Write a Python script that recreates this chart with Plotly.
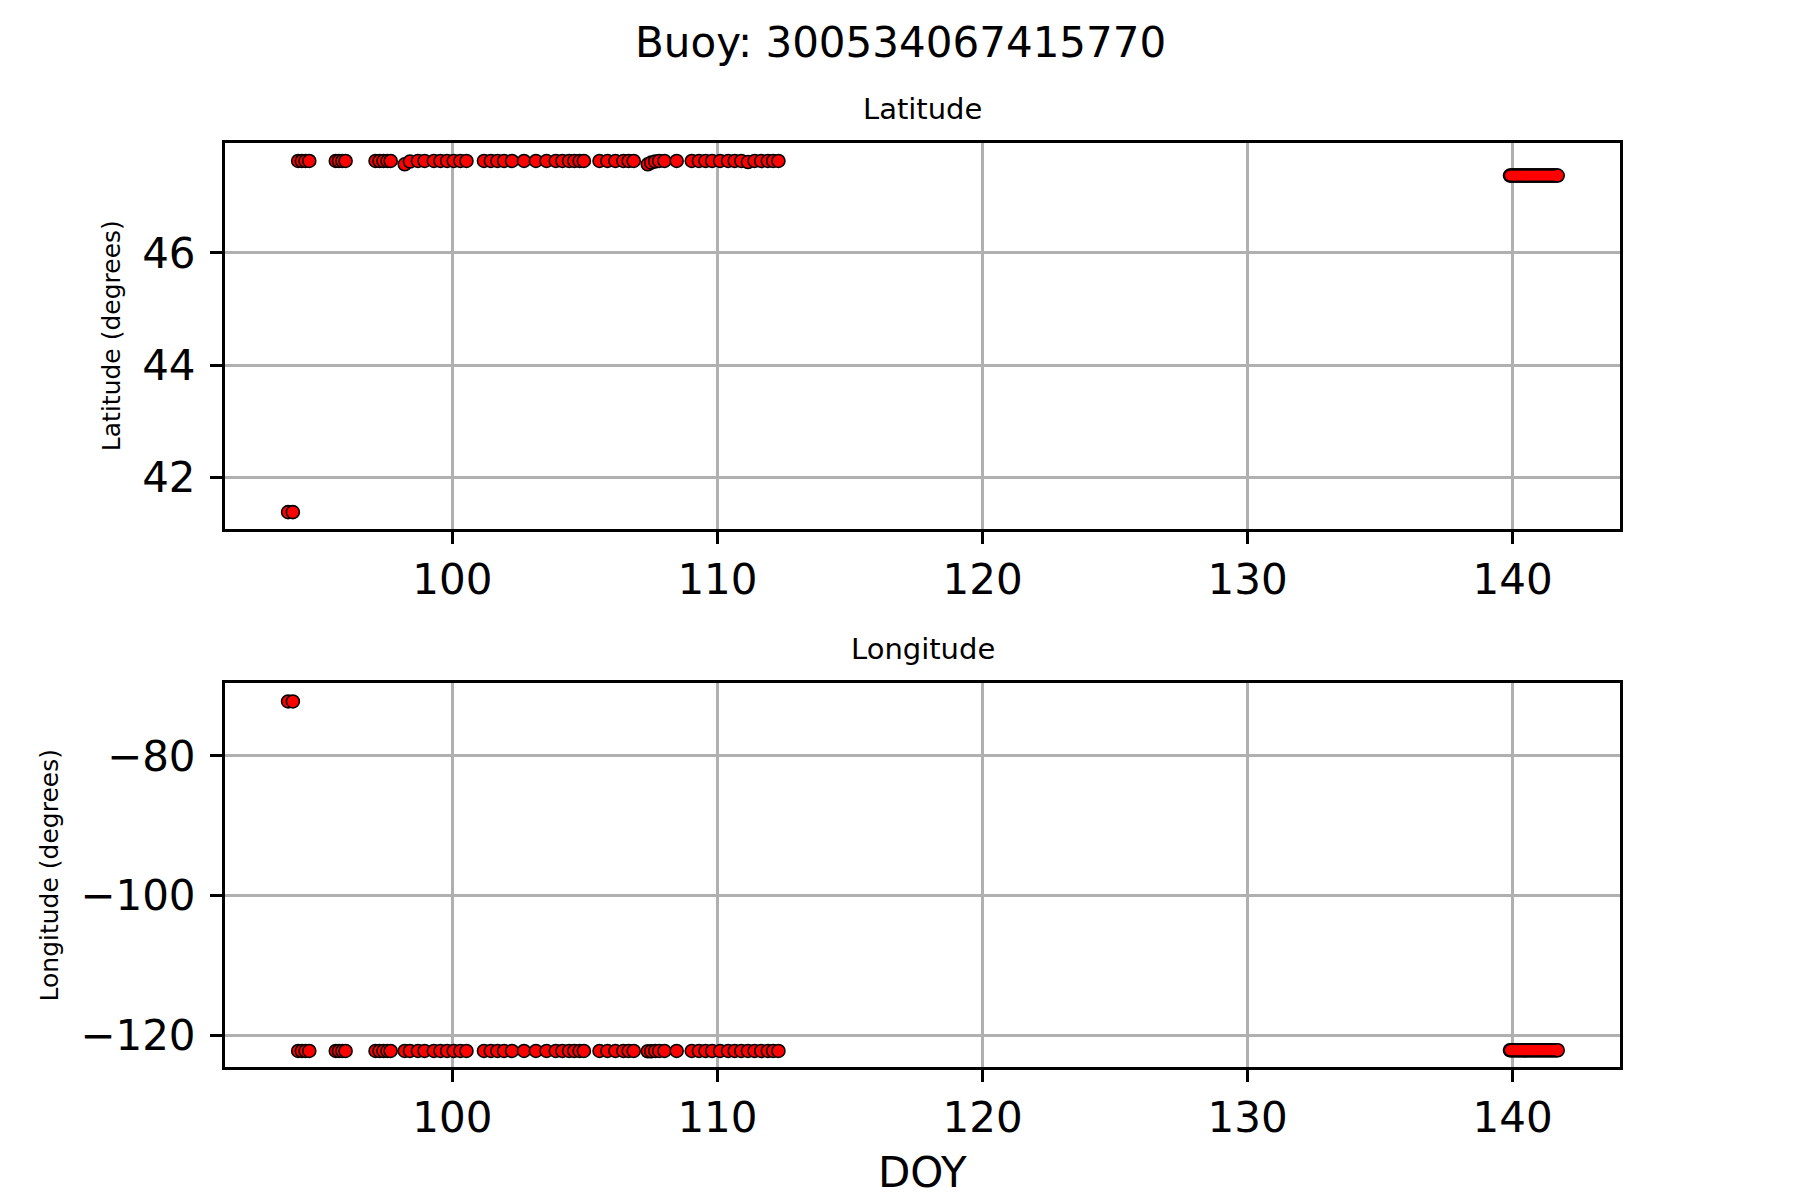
import plotly.graph_objects as go
from plotly.subplots import make_subplots

titulo = "Buoy: 300534067415770"

# dia del año de cada posicion
doy = [
    93.80, 93.98,
    94.18, 94.32, 94.46, 94.60,
    95.60, 95.72, 95.85, 95.97,
    97.10, 97.25, 97.40, 97.55, 97.67,
    98.20, 98.40, 98.70, 98.95, 99.30, 99.55, 99.80, 100.05, 100.30, 100.53,
    101.19, 101.45, 101.70, 101.95, 102.25, 102.70, 103.15, 103.55, 103.90,
    104.15, 104.40, 104.60, 104.80, 104.96,
    105.55, 105.85, 106.15, 106.45, 106.65, 106.84,
    107.37, 107.50, 107.65, 107.80, 108.00,
    108.46,
    109.03, 109.30, 109.55, 109.80, 110.10, 110.40, 110.65, 110.90, 111.15,
    111.40, 111.65, 111.90, 112.10, 112.30,
    139.90, 139.95, 140.00, 140.05, 140.10, 140.15, 140.20, 140.25, 140.30,
    140.35, 140.40, 140.45, 140.50, 140.55, 140.60, 140.65, 140.70, 140.75,
    140.80, 140.85, 140.90, 140.95, 141.00, 141.05, 141.10, 141.15, 141.20,
    141.25, 141.30, 141.35, 141.40, 141.45, 141.50, 141.55, 141.60, 141.65,
    141.70,
]

latitud = [
    41.38, 41.38,
    47.64, 47.64, 47.64, 47.64,
    47.64, 47.64, 47.64, 47.64,
    47.64, 47.64, 47.64, 47.64, 47.64,
    47.58, 47.63, 47.64, 47.64, 47.64, 47.64, 47.64, 47.64, 47.64, 47.64,
    47.64, 47.64, 47.64, 47.64, 47.64, 47.64, 47.64, 47.64, 47.64,
    47.64, 47.64, 47.64, 47.64, 47.64,
    47.64, 47.64, 47.64, 47.64, 47.64, 47.64,
    47.58, 47.61, 47.63, 47.64, 47.64,
    47.64,
    47.64, 47.64, 47.64, 47.64, 47.64, 47.64, 47.64, 47.64, 47.62,
    47.64, 47.64, 47.64, 47.64, 47.64,
    47.38, 47.38, 47.38, 47.38, 47.38, 47.38, 47.38, 47.38, 47.38,
    47.38, 47.38, 47.38, 47.38, 47.38, 47.38, 47.38, 47.38, 47.38,
    47.38, 47.38, 47.38, 47.38, 47.38, 47.38, 47.38, 47.38, 47.38,
    47.38, 47.38, 47.38, 47.38, 47.38, 47.38, 47.38, 47.38, 47.38,
    47.38,
]

longitud = [
    -72.2, -72.2,
    -122.2, -122.2, -122.2, -122.2,
    -122.2, -122.2, -122.2, -122.2,
    -122.2, -122.2, -122.2, -122.2, -122.2,
    -122.2, -122.2, -122.2, -122.2, -122.2, -122.2, -122.2, -122.2, -122.2, -122.2,
    -122.2, -122.2, -122.2, -122.2, -122.2, -122.2, -122.2, -122.2, -122.2,
    -122.2, -122.2, -122.2, -122.2, -122.2,
    -122.2, -122.2, -122.2, -122.2, -122.2, -122.2,
    -122.25, -122.25, -122.2, -122.2, -122.2,
    -122.2,
    -122.2, -122.2, -122.2, -122.2, -122.2, -122.2, -122.2, -122.2, -122.2,
    -122.2, -122.2, -122.2, -122.2, -122.2,
    -122.1, -122.1, -122.1, -122.1, -122.1, -122.1, -122.1, -122.1, -122.1,
    -122.1, -122.1, -122.1, -122.1, -122.1, -122.1, -122.1, -122.1, -122.1,
    -122.1, -122.1, -122.1, -122.1, -122.1, -122.1, -122.1, -122.1, -122.1,
    -122.1, -122.1, -122.1, -122.1, -122.1, -122.1, -122.1, -122.1, -122.1,
    -122.1,
]

ticks_x = [100, 110, 120, 130, 140]
ticks_lat = [42, 44, 46]
ticks_lon = [-80, -100, -120]

fuente = "DejaVu Sans"

# los puntos del final (dia > 130) estan tan juntos que se pintan como una banda
tramo_final = [i for i, d in enumerate(doy) if d > 130]

figura = make_subplots(rows=2, cols=1)

tam = 13
borde = 1.6
marcador = dict(color="red", size=tam, line=dict(color="black", width=borde))
relleno = dict(color="red", size=tam - 2 * borde, line=dict(width=0))

for fila, valores in [(1, latitud), (2, longitud)]:
    figura.add_trace(
        go.Scatter(x=doy, y=valores, mode="markers", marker=marcador,
                   showlegend=False),
        row=fila, col=1
    )
    figura.add_trace(
        go.Scatter(x=[doy[i] for i in tramo_final],
                   y=[valores[i] for i in tramo_final],
                   mode="markers", marker=relleno, showlegend=False,
                   hoverinfo="skip"),
        row=fila, col=1
    )

ejes = dict(
    showline=True, linecolor="black", linewidth=3, mirror=True,
    ticks="outside", ticklen=12, tickwidth=2.5, tickcolor="black",
    showgrid=True, gridcolor="#b0b0b0", gridwidth=2.5, zeroline=False,
    tickfont=dict(family=fuente, size=42, color="black"),
)

figura.update_xaxes(ejes, range=[91.42, 144.05], tickvals=ticks_x)
figura.update_yaxes(ejes, ticklabelstandoff=6)
figura.update_layout(
    xaxis=dict(domain=[0, 1]),
    xaxis2=dict(domain=[0, 1]),
    yaxis=dict(domain=[0.5823, 1], range=[41.08, 47.96], tickvals=ticks_lat),
    yaxis2=dict(domain=[0, 0.4156], range=[-124.5, -69.56], tickvals=ticks_lon),
)

anotaciones = [
    dict(text=titulo, x=0.4839, y=1.1093, size=42),
    dict(text="Latitude", x=0.5, y=1.0368, size=29),
    dict(text="Longitude", x=0.5, y=0.4524, size=29),
    dict(text="DOY", x=0.5, y=-0.1147, size=42),
]
for a in anotaciones:
    figura.add_annotation(
        text=a["text"], x=a["x"], y=a["y"], xref="paper", yref="paper",
        showarrow=False, xanchor="center", yanchor="middle",
        font=dict(family=fuente, size=a["size"], color="black")
    )

figura.add_annotation(
    text="Latitude (degrees)", x=-0.0817, y=0.791, xref="paper", yref="paper",
    showarrow=False, textangle=-90, xanchor="center", yanchor="middle",
    font=dict(family=fuente, size=25, color="black")
)
figura.add_annotation(
    text="Longitude (degrees)", x=-0.1251, y=0.2078, xref="paper", yref="paper",
    showarrow=False, textangle=-90, xanchor="center", yanchor="middle",
    font=dict(family=fuente, size=25, color="black")
)

figura.update_layout(
    width=1800, height=1200,
    margin=dict(l=217, r=188, t=135, b=141),
    plot_bgcolor="white", paper_bgcolor="white",
    font=dict(family=fuente, color="black"),
)

figura.write_html("out.html")
